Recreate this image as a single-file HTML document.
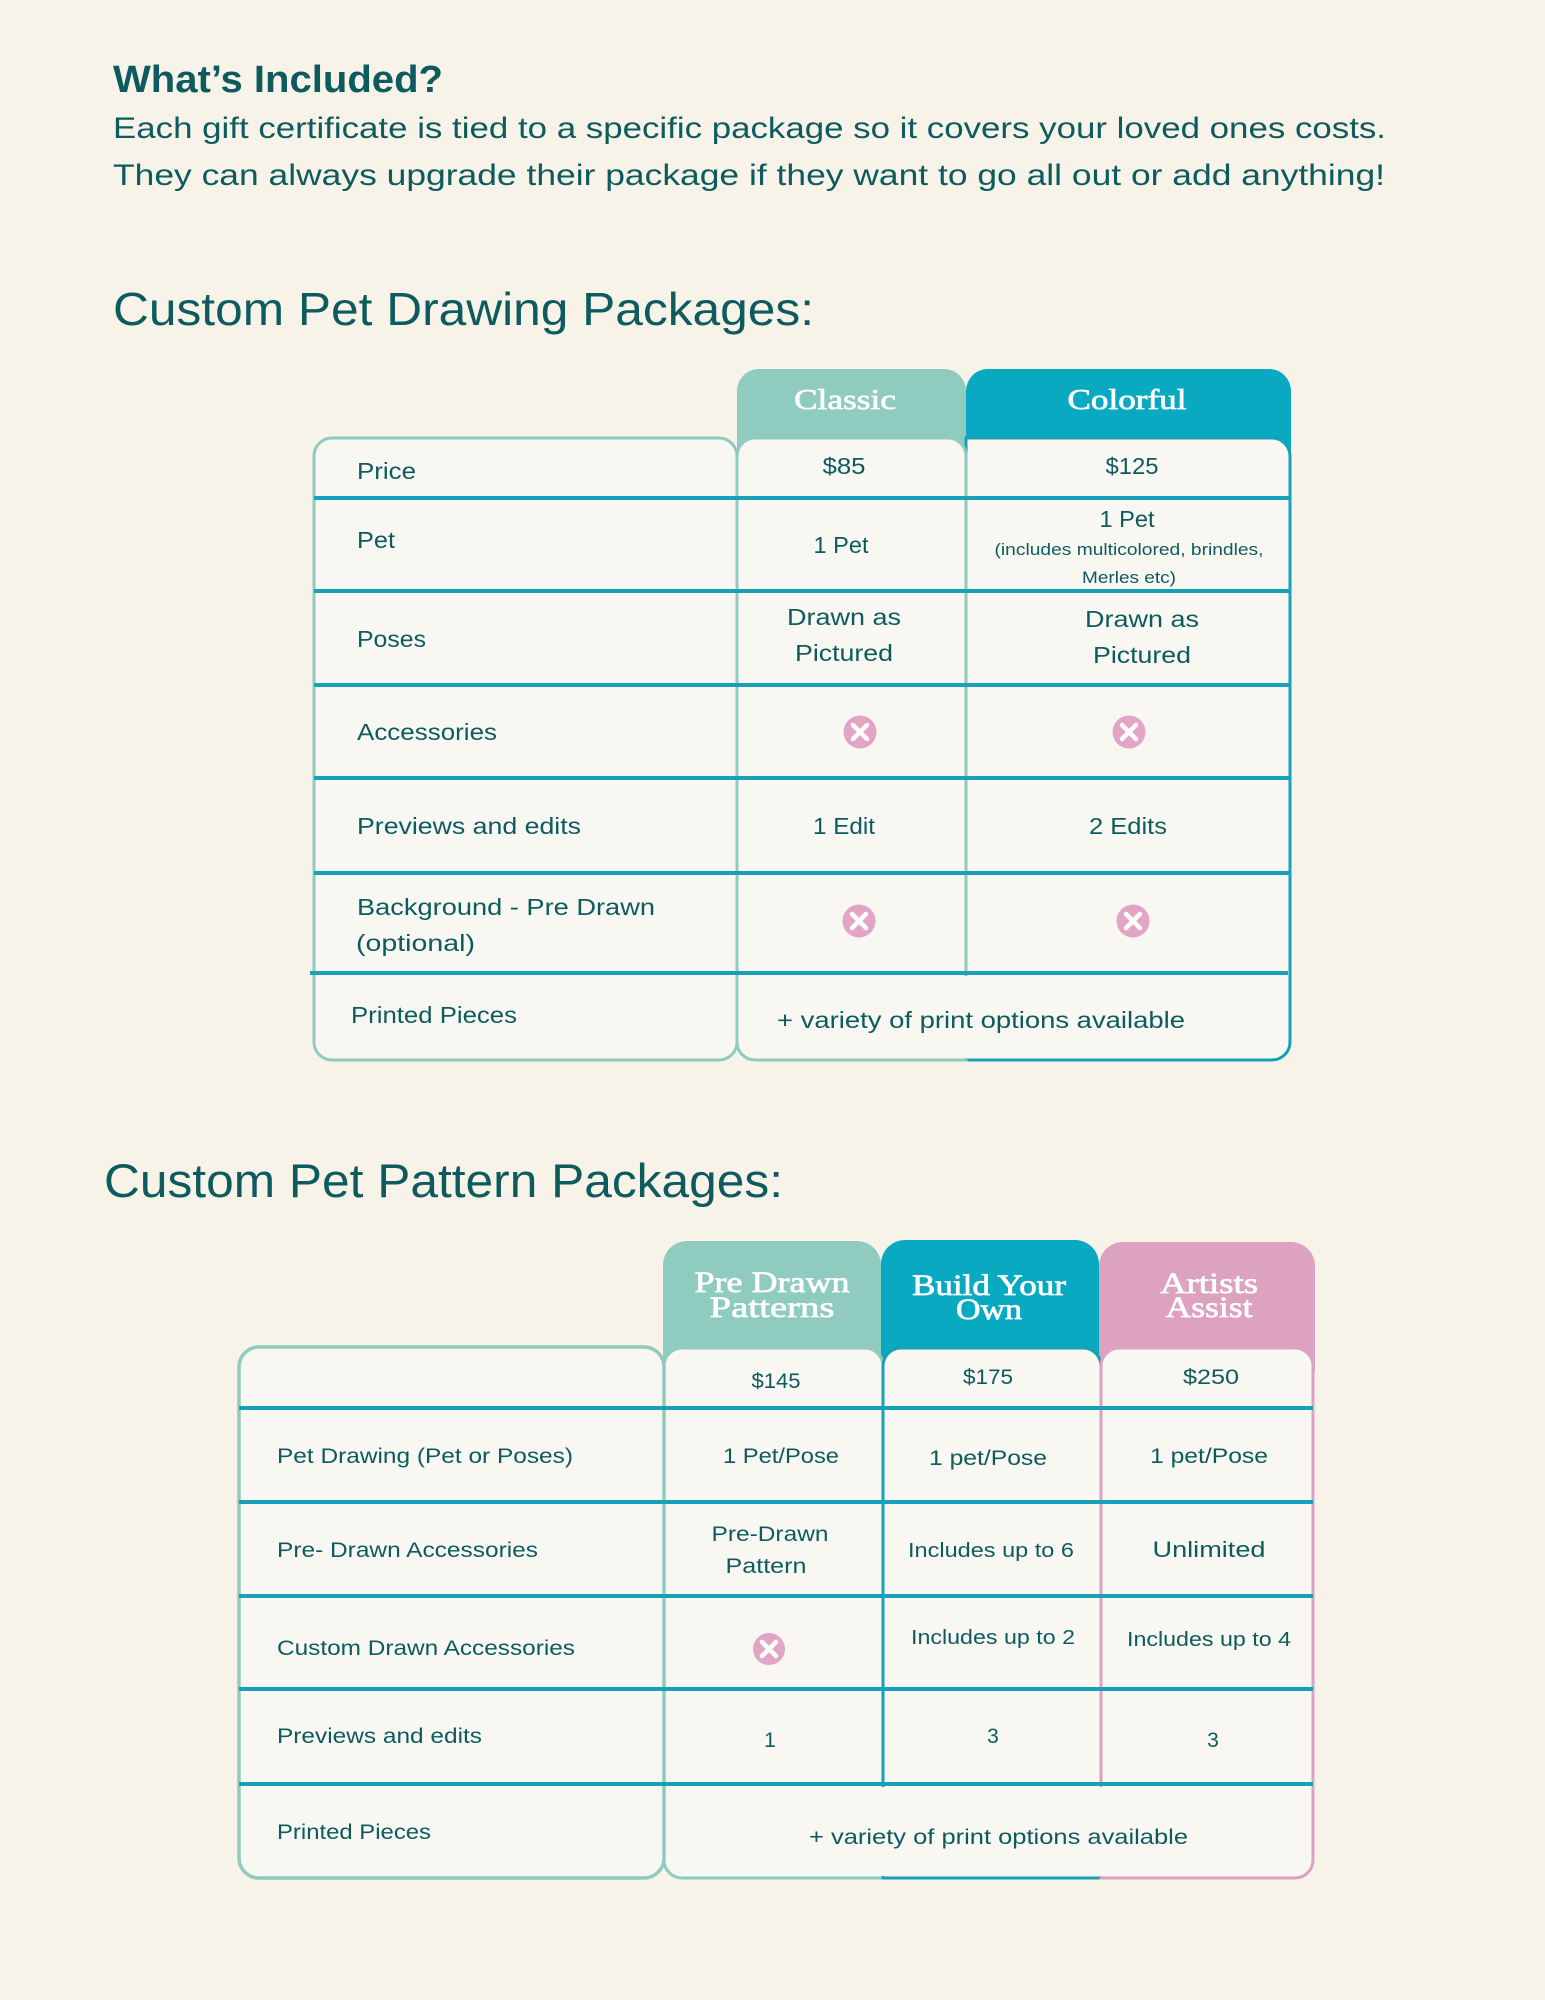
<!DOCTYPE html>
<html>
<head>
<meta charset="utf-8">
<style>
html,body{margin:0;padding:0;background:#f7f3e8;}
svg{display:block;}
.t{font-family:"Liberation Sans",sans-serif;fill:#0d5b5e;}
.s{font-family:"Liberation Serif",serif;fill:#ffffff;font-weight:normal;stroke:#ffffff;stroke-width:0.7;}
</style>
</head>
<body>
<svg width="1545" height="2000" viewBox="0 0 1545 2000" xmlns="http://www.w3.org/2000/svg">
<rect x="0" y="0" width="1545" height="2000" fill="#f7f3e8"/>

<!-- Header -->
<text class="t" x="113" y="92" font-size="38" font-weight="bold" textLength="330" lengthAdjust="spacingAndGlyphs">What’s Included?</text>
<text class="t" x="113" y="138" font-size="30" textLength="1273" lengthAdjust="spacingAndGlyphs">Each gift certificate is tied to a specific package so it covers your loved ones costs.</text>
<text class="t" x="113" y="185" font-size="30" textLength="1272" lengthAdjust="spacingAndGlyphs">They can always upgrade their package if they want to go all out or add anything!</text>
<text class="t" x="113" y="325" font-size="46" textLength="701" lengthAdjust="spacingAndGlyphs">Custom Pet Drawing Packages:</text>

<!-- TABLE 1 -->
<path d="M737,460 V391 A22,22 0 0 1 759,369 H944 A22,22 0 0 1 966,391 V460 Z" fill="#8fcbbe"/>
<path d="M966,460 V391 A22,22 0 0 1 988,369 H1269 A22,22 0 0 1 1291,391 V460 Z" fill="#0aa9c2"/>
<path d="M966,438 H1272 A18,18 0 0 1 1290,456 V1042 A18,18 0 0 1 1272,1060 H966 Z" fill="#f8f7f2" stroke="#17a0b6" stroke-width="3"/>
<path d="M737,456 A18,18 0 0 1 755,438 H948 A18,18 0 0 1 966,456 V1060 H755 A18,18 0 0 1 737,1042 Z" fill="#f8f7f2" stroke="#8fcbbe" stroke-width="3"/>
<rect x="314" y="438" width="423" height="622" rx="18" fill="#f8f7f2" stroke="#8fcbbe" stroke-width="3"/>
<g stroke="#17a0b6" stroke-width="4">
<line x1="314" y1="498" x2="1290" y2="498"/>
<line x1="314" y1="591" x2="1290" y2="591"/>
<line x1="314" y1="685" x2="1290" y2="685"/>
<line x1="314" y1="778" x2="1290" y2="778"/>
<line x1="314" y1="873" x2="1290" y2="873"/>
<line x1="310" y1="973" x2="1288" y2="973"/>
</g>
<rect x="958" y="976" width="16" height="82" fill="#f8f7f2"/>

<text class="s" x="794" y="409" font-size="29" textLength="102" lengthAdjust="spacingAndGlyphs">Classic</text>
<text class="s" x="1067.5" y="409" font-size="29" textLength="119" lengthAdjust="spacingAndGlyphs">Colorful</text>

<g class="t" font-size="23">
<text class="t" x="357" y="479" textLength="59" lengthAdjust="spacingAndGlyphs">Price</text>
<text class="t" x="822.5" y="474" textLength="43" lengthAdjust="spacingAndGlyphs">$85</text>
<text class="t" x="1105.5" y="474" textLength="53" lengthAdjust="spacingAndGlyphs">$125</text>
<text class="t" x="357" y="548" textLength="38" lengthAdjust="spacingAndGlyphs">Pet</text>
<text class="t" x="813.5" y="553" textLength="55" lengthAdjust="spacingAndGlyphs">1 Pet</text>
<text class="t" x="1099.5" y="527" textLength="55" lengthAdjust="spacingAndGlyphs">1 Pet</text>
<text class="t" x="994.5" y="555" font-size="17" textLength="269" lengthAdjust="spacingAndGlyphs">(includes multicolored, brindles,</text>
<text class="t" x="1082" y="583" font-size="17" textLength="94" lengthAdjust="spacingAndGlyphs">Merles etc)</text>
<text class="t" x="357" y="647" textLength="69" lengthAdjust="spacingAndGlyphs">Poses</text>
<text class="t" x="787" y="625" textLength="114" lengthAdjust="spacingAndGlyphs">Drawn as</text>
<text class="t" x="795" y="661" textLength="98" lengthAdjust="spacingAndGlyphs">Pictured</text>
<text class="t" x="1085" y="627" textLength="114" lengthAdjust="spacingAndGlyphs">Drawn as</text>
<text class="t" x="1093" y="663" textLength="98" lengthAdjust="spacingAndGlyphs">Pictured</text>
<text class="t" x="357" y="740" textLength="140" lengthAdjust="spacingAndGlyphs">Accessories</text>
<text class="t" x="357" y="834" textLength="224" lengthAdjust="spacingAndGlyphs">Previews and edits</text>
<text class="t" x="813" y="834" textLength="62" lengthAdjust="spacingAndGlyphs">1 Edit</text>
<text class="t" x="1089" y="834" textLength="78" lengthAdjust="spacingAndGlyphs">2 Edits</text>
<text class="t" x="357" y="915" textLength="298" lengthAdjust="spacingAndGlyphs">Background - Pre Drawn</text>
<text class="t" x="356" y="951" textLength="119" lengthAdjust="spacingAndGlyphs">(optional)</text>
<text class="t" x="351" y="1023" textLength="166" lengthAdjust="spacingAndGlyphs">Printed Pieces</text>
<text class="t" x="777" y="1028" textLength="408" lengthAdjust="spacingAndGlyphs">+ variety of print options available</text>
</g>

<!-- X icons table 1 -->
<g>
<circle cx="860" cy="732" r="16.5" fill="#e3a5c6"/>
<path d="M853,725 L867,739 M867,725 L853,739" stroke="#fff" stroke-width="4.5" stroke-linecap="round"/>
<circle cx="1129" cy="732" r="16.5" fill="#e3a5c6"/>
<path d="M1122,725 L1136,739 M1136,725 L1122,739" stroke="#fff" stroke-width="4.5" stroke-linecap="round"/>
<circle cx="859" cy="921" r="16.5" fill="#e3a5c6"/>
<path d="M852,914 L866,928 M866,914 L852,928" stroke="#fff" stroke-width="4.5" stroke-linecap="round"/>
<circle cx="1133" cy="921" r="16.5" fill="#e3a5c6"/>
<path d="M1126,914 L1140,928 M1140,914 L1126,928" stroke="#fff" stroke-width="4.5" stroke-linecap="round"/>
</g>

<!-- Heading 2 -->
<text class="t" x="104" y="1197" font-size="47" textLength="679" lengthAdjust="spacingAndGlyphs">Custom Pet Pattern Packages:</text>

<!-- TABLE 2 -->
<path d="M663,1372 V1265 A24,24 0 0 1 687,1241 H857 A24,24 0 0 1 881,1265 V1372 Z" fill="#8fcbbe"/>
<path d="M881,1372 V1264 A24,24 0 0 1 905,1240 H1075 A24,24 0 0 1 1099,1264 V1372 Z" fill="#0aa9c2"/>
<path d="M1099,1372 V1266 A24,24 0 0 1 1123,1242 H1291 A24,24 0 0 1 1315,1266 V1372 Z" fill="#dca2c0"/>

<path d="M664,1366 A18,18 0 0 1 682,1348 H865 A18,18 0 0 1 883,1366 V1878 H682 A18,18 0 0 1 664,1860 Z" fill="#f8f7f2" stroke="#8fcbbe" stroke-width="3"/>
<path d="M883,1366 A18,18 0 0 1 901,1348 H1083 A18,18 0 0 1 1101,1366 V1878 H883 Z" fill="#f8f7f2" stroke="#17a0b6" stroke-width="3"/>
<path d="M1101,1366 A18,18 0 0 1 1119,1348 H1295 A18,18 0 0 1 1313,1366 V1860 A18,18 0 0 1 1295,1878 H1101 Z" fill="#f8f7f2" stroke="#dca2c0" stroke-width="3"/>
<rect x="239" y="1347" width="425" height="531" rx="20" fill="#f8f7f2" stroke="#8fcbbe" stroke-width="3.5"/>

<g stroke="#17a0b6" stroke-width="4">
<line x1="239" y1="1408" x2="1313" y2="1408"/>
<line x1="239" y1="1502" x2="1313" y2="1502"/>
<line x1="239" y1="1596" x2="1313" y2="1596"/>
<line x1="239" y1="1689" x2="1313" y2="1689"/>
<line x1="239" y1="1784" x2="1313" y2="1784"/>
</g>
<rect x="875" y="1787" width="16" height="89" fill="#f8f7f2"/>
<rect x="1093" y="1787" width="16" height="89" fill="#f8f7f2"/>

<text class="s" x="694.5" y="1292" font-size="30" textLength="155" lengthAdjust="spacingAndGlyphs">Pre Drawn</text>
<text class="s" x="709.5" y="1317" font-size="30" textLength="125" lengthAdjust="spacingAndGlyphs">Patterns</text>
<text class="s" x="912" y="1295" font-size="30" textLength="154" lengthAdjust="spacingAndGlyphs">Build Your</text>
<text class="s" x="956" y="1319" font-size="30" textLength="66" lengthAdjust="spacingAndGlyphs">Own</text>
<text class="s" x="1160" y="1293" font-size="30" textLength="98" lengthAdjust="spacingAndGlyphs">Artists</text>
<text class="s" x="1165.5" y="1317" font-size="30" textLength="87" lengthAdjust="spacingAndGlyphs">Assist</text>

<g font-size="21">
<text class="t" x="751.5" y="1388" textLength="49" lengthAdjust="spacingAndGlyphs">$145</text>
<text class="t" x="963" y="1384" textLength="50" lengthAdjust="spacingAndGlyphs">$175</text>
<text class="t" x="1183" y="1384" textLength="56" lengthAdjust="spacingAndGlyphs">$250</text>
<text class="t" x="277" y="1463" textLength="296" lengthAdjust="spacingAndGlyphs">Pet Drawing (Pet or Poses)</text>
<text class="t" x="723" y="1463" textLength="116" lengthAdjust="spacingAndGlyphs">1 Pet/Pose</text>
<text class="t" x="929" y="1465" textLength="118" lengthAdjust="spacingAndGlyphs">1 pet/Pose</text>
<text class="t" x="1150" y="1463" textLength="118" lengthAdjust="spacingAndGlyphs">1 pet/Pose</text>
<text class="t" x="277" y="1557" textLength="261" lengthAdjust="spacingAndGlyphs">Pre- Drawn Accessories</text>
<text class="t" x="711.5" y="1541" textLength="117" lengthAdjust="spacingAndGlyphs">Pre-Drawn</text>
<text class="t" x="725.5" y="1573" textLength="81" lengthAdjust="spacingAndGlyphs">Pattern</text>
<text class="t" x="908" y="1557" font-size="20" textLength="166" lengthAdjust="spacingAndGlyphs">Includes up to 6</text>
<text class="t" x="1152.5" y="1557" font-size="22" textLength="113" lengthAdjust="spacingAndGlyphs">Unlimited</text>
<text class="t" x="277" y="1655" textLength="298" lengthAdjust="spacingAndGlyphs">Custom Drawn Accessories</text>
<text class="t" x="911" y="1644" font-size="20" textLength="164" lengthAdjust="spacingAndGlyphs">Includes up to 2</text>
<text class="t" x="1127" y="1646" font-size="20" textLength="164" lengthAdjust="spacingAndGlyphs">Includes up to 4</text>
<text class="t" x="277" y="1743" textLength="205" lengthAdjust="spacingAndGlyphs">Previews and edits</text>
<text class="t" x="770" y="1747" text-anchor="middle">1</text>
<text class="t" x="993" y="1743" text-anchor="middle">3</text>
<text class="t" x="1213" y="1747" text-anchor="middle">3</text>
<text class="t" x="277" y="1839" textLength="154" lengthAdjust="spacingAndGlyphs">Printed Pieces</text>
<text class="t" x="809" y="1844" textLength="379" lengthAdjust="spacingAndGlyphs">+ variety of print options available</text>
</g>

<circle cx="769" cy="1649" r="16" fill="#e3a5c6"/>
<path d="M762,1642 L776,1656 M776,1642 L762,1656" stroke="#fff" stroke-width="4.5" stroke-linecap="round"/>
</svg>
</body>
</html>
